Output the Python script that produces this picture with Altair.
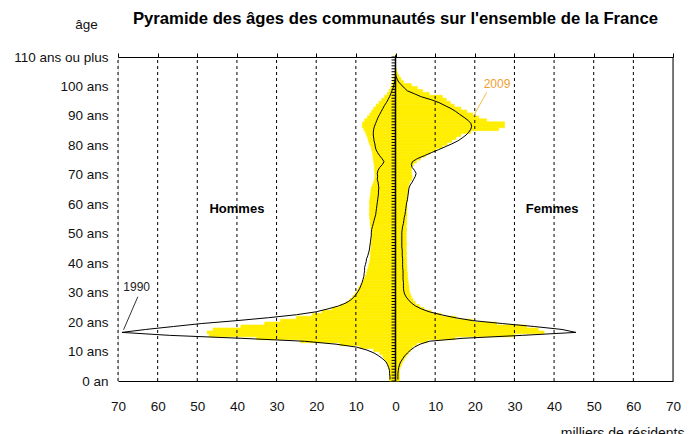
import altair as alt
import pandas as pd

# ---------------- data (thousands of residents, men negative) ----------------
ages = list(range(111))

men_2009 = [
    -1.5, -1.5, -1.5, -1.6, -1.7, -1.9, -2.3, -2.8, -3.2, -4.0,
    -5.5, -9.0, -14.0, -24.0, -35.0, -47.0, -47.5, -46.0, -39.0, -33.0,
    -29.0, -25.0, -21.0, -18.5, -16.0, -14.0, -12.5, -11.5, -10.8, -10.2,
    -9.7, -9.3, -8.8, -8.4, -8.0, -7.6, -7.3, -7.1, -6.9, -6.7,
    -6.5, -6.4, -6.3, -6.4, -6.2, -6.1, -6.2, -6.1, -6.0, -6.1,
    -6.1, -6.2, -6.3, -6.4, -6.4, -6.5, -6.6, -6.5, -6.6, -6.5,
    -6.6, -6.5, -6.4, -6.3, -6.2, -6.1, -5.8, -5.5, -5.3, -5.2,
    -5.2, -5.3, -5.3, -5.4, -5.5, -5.6, -5.7, -5.8, -6.0, -6.2,
    -6.5, -6.8, -7.0, -7.3, -7.6, -8.0, -8.4, -8.3, -7.8, -7.1,
    -6.5, -6.0, -5.5, -4.9, -4.2, -3.5, -2.8, -2.1, -1.6, -1.2,
    -0.9, -0.7, -0.5, -0.4, -0.3, -0.2, -0.1, 0.0, 0.0, 0.0, 0.0,
]

women_2009 = [
    1.0, 1.0, 1.0, 1.0, 1.2, 1.5, 1.8, 2.2, 2.7, 3.2,
    3.8, 4.3, 5.4, 8.0, 15.0, 30.0, 37.5, 36.0, 33.0, 25.5,
    19.5, 15.3, 11.5, 9.0, 7.2, 6.0, 5.0, 4.4, 4.0, 3.7,
    3.5, 3.4, 3.3, 3.2, 3.1, 3.0, 3.0, 2.9, 2.9, 2.8,
    2.8, 2.8, 2.7, 2.8, 2.7, 2.7, 2.8, 2.7, 2.7, 2.7,
    2.7, 2.8, 2.7, 2.8, 2.8, 2.8, 2.9, 2.8, 2.9, 2.9,
    2.9, 3.0, 3.0, 3.1, 3.1, 3.2, 3.4, 3.6, 4.1, 4.2,
    4.0, 4.0, 4.0, 4.5, 5.3, 6.3, 7.5, 8.8, 10.3, 11.8,
    13.0, 14.2, 15.3, 16.5, 19.0, 26.0, 27.5, 27.5, 23.0, 21.0,
    19.5, 18.0, 16.5, 14.8, 13.8, 12.8, 11.8, 8.5, 6.8, 5.5,
    4.0, 2.0, 1.4, 0.9, 0.5, 0.2, 0.1, 0.0, 0.0, 0.0, 0.0,
]

men_1990 = [
    -1.4, -1.4, -1.5, -1.5, -1.7, -2.0, -2.4, -3.2, -4.2, -5.4,
    -7.2, -9.8, -15.0, -23.0, -39.0, -57.0, -69.0, -63.0, -56.0, -49.0,
    -40.0, -32.0, -25.0, -20.0, -17.0, -14.3, -12.5, -11.3, -10.5, -9.9,
    -9.4, -9.0, -8.7, -8.4, -8.2, -8.0, -7.9, -7.8, -7.8, -7.6,
    -7.4, -7.3, -7.0, -6.8, -6.6, -6.5, -6.4, -6.3, -6.2, -6.1,
    -6.1, -6.0, -5.8, -5.6, -5.4, -5.2, -5.0, -4.9, -4.8, -4.7,
    -4.6, -4.5, -4.4, -4.3, -4.3, -4.2, -4.3, -4.4, -4.6, -4.5,
    -4.6, -4.4, -4.0, -3.3, -2.9, -3.4, -4.0, -4.5, -4.9, -5.1,
    -5.2, -5.4, -5.5, -5.6, -5.6, -5.5, -5.3, -5.0, -4.7, -4.4,
    -4.0, -3.6, -3.2, -2.8, -2.3, -1.9, -1.5, -1.2, -0.9, -0.6,
    -0.4, -0.2, -0.1, 0.0, 0.0, 0.0, 0.0, 0.0, 0.0, 0.0, 0.0,
]

women_1990 = [
    0.6, 0.6, 0.6, 0.7, 0.8, 1.0, 1.3, 1.8, 2.3, 3.0,
    3.8, 4.8, 6.2, 8.5, 17.0, 32.0, 45.5, 42.0, 35.0, 27.0,
    19.5, 15.0, 11.5, 8.5, 6.5, 5.0, 4.0, 3.3, 2.7, 2.3,
    2.1, 2.0, 2.0, 2.0, 1.9, 1.9, 1.9, 1.9, 1.8, 1.8,
    1.8, 1.8, 1.7, 1.7, 1.7, 1.6, 1.6, 1.6, 1.6, 1.6,
    1.6, 1.7, 1.8, 2.0, 2.1, 2.2, 2.4, 2.5, 2.6, 2.7,
    2.8, 3.0, 3.1, 3.2, 3.3, 3.4, 3.7, 4.2, 4.6, 5.0,
    5.2, 4.8, 4.2, 4.0, 4.3, 5.5, 7.3, 9.0, 10.8, 12.5,
    14.2, 15.7, 16.8, 17.8, 18.5, 19.0, 19.2, 19.0, 18.3, 17.3,
    16.2, 15.2, 14.0, 12.5, 11.0, 9.0, 6.5, 4.8, 3.0, 2.2,
    1.5, 0.8, 0.4, 0.1, 0.0, 0.0, 0.0, 0.0, 0.0, 0.0, 0.0,
]

y_ticks = [0, 10, 20, 30, 40, 50, 60, 70, 80, 90, 100, 110]
y_labels = ["0 an", "10 ans", "20 ans", "30 ans", "40 ans", "50 ans", "60 ans",
            "70 ans", "80 ans", "90 ans", "100 ans", "110 ans ou plus"]
x_ticks = [-70, -60, -50, -40, -30, -20, -10, 0, 10, 20, 30, 40, 50, 60, 70]
grid_x = [-70, -60, -50, -40, -30, -20, -10, 10, 20, 30, 40, 50, 60]

TITLE = "Pyramide des âges des communautés sur l'ensemble de la France"
FONT = "Liberation Sans"
YELLOW = "#FFEE00"
ORANGE = "#F0A030"

# ---------------- tables ----------------
rows = []
for a in ages:
    rows.append(dict(age=a, age1=a + 1, mid=a + 0.5, sexe="Hommes",
                     v2009=men_2009[a], v1990=men_1990[a], zero=0.0))
for a in ages:
    rows.append(dict(age=a, age1=a + 1, mid=a + 0.5, sexe="Femmes",
                     v2009=women_2009[a], v1990=women_1990[a], zero=0.0))
df = pd.DataFrame(rows)

grid_df = pd.DataFrame({"gx": grid_x, "y0": 0, "y1": 110})
frame_df = pd.DataFrame({"gx": [70], "y0": [0], "y1": [110]})
axis_df = pd.DataFrame({"gx": [0], "y0": [0], "y1": [110]})
ticks_df = pd.DataFrame({"age": ages, "x0": -1.0, "x1": 0.0})
top_df = pd.DataFrame({"gx": x_ticks})

X = alt.Scale(domain=[-70, 70], nice=False, zero=False)
Y = alt.Scale(domain=[0, 110], nice=False, zero=False)

y_expr = "[" + ",".join("'" + s + "'" for s in y_labels) + "][round(datum.value/10)]"

bars = alt.Chart(df).mark_rect(color=YELLOW, stroke=YELLOW, strokeWidth=0.6).encode(
    x=alt.X("v2009:Q", scale=X, axis=alt.Axis(
        values=x_ticks, labelExpr="abs(datum.value)", ticks=False, grid=False,
        domain=True, domainColor="black", domainWidth=1, labelFlush=False,
        labelFont=FONT, labelFontSize=13.5, labelColor="#111", labelPadding=18,
        title="milliers de résidents", titleFont=FONT, titleFontSize=14,
        titleFontWeight="normal", titleColor="#111", titleAlign="right",
        titleAnchor="end", titleX=566, titleY=56, titleBaseline="alphabetic")),
    x2="zero:Q",
    y=alt.Y("age:Q", scale=Y, axis=alt.Axis(
        values=y_ticks, labelExpr=y_expr, ticks=False, grid=False, domain=False,
        labelFont=FONT, labelFontSize=13.5, labelColor="#111", labelPadding=10,
        title="âge", titleAngle=0, titleFont=FONT, titleFontSize=13.5,
        titleFontWeight="normal", titleColor="#111", titleAlign="center",
        titleX=-32, titleY=-29, titleBaseline="alphabetic")),
    y2="age1:Q",
)

grid = alt.Chart(grid_df).mark_rule(color="black", strokeDash=[3, 3], strokeWidth=1).encode(
    x=alt.X("gx:Q", scale=X, axis=None),
    y=alt.Y("y0:Q", scale=Y, axis=None),
    y2="y1:Q",
)

right_border = alt.Chart(frame_df).mark_rule(color="black", strokeWidth=1).encode(
    x=alt.X("gx:Q", scale=X, axis=None),
    y=alt.Y("y0:Q", scale=Y, axis=None),
    y2="y1:Q",
)

top_axis = alt.Chart(top_df).mark_point(opacity=0).encode(
    x=alt.X("gx:Q", scale=X, axis=alt.Axis(
        orient="top", values=x_ticks, labels=False, ticks=True, tickSize=4,
        tickColor="black", domain=True, domainColor="black", grid=False, title=None)),
)

lines = alt.Chart(df).mark_line(color="black", strokeWidth=1).encode(
    x=alt.X("v1990:Q", scale=X, axis=None),
    y=alt.Y("mid:Q", scale=Y, axis=None),
    order="age:Q",
    detail="sexe:N",
)

center_axis = alt.Chart(axis_df).mark_rule(color="black", strokeWidth=1.5).encode(
    x=alt.X("gx:Q", scale=X, axis=None),
    y=alt.Y("y0:Q", scale=Y, axis=None),
    y2="y1:Q",
)

center_ticks = alt.Chart(ticks_df).mark_rule(color="black", strokeWidth=1).encode(
    x=alt.X("x0:Q", scale=X, axis=None),
    x2="x1:Q",
    y=alt.Y("age:Q", scale=Y, axis=None),
)

sex_df = pd.DataFrame({"x": [-40, 39.5], "y": [58.5, 58.5], "t": ["Hommes", "Femmes"]})
sex_text = alt.Chart(sex_df).mark_text(font=FONT, fontSize=13, fontWeight="bold",
                                       color="black").encode(
    x=alt.X("x:Q", scale=X, axis=None),
    y=alt.Y("y:Q", scale=Y, axis=None),
    text="t:N",
)

lab1990 = alt.Chart(pd.DataFrame({"x": [-65.3], "y": [31.8], "t": ["1990"]})).mark_text(
    font=FONT, fontSize=12, color="#222").encode(
    x=alt.X("x:Q", scale=X, axis=None), y=alt.Y("y:Q", scale=Y, axis=None), text="t:N")
lead1990 = alt.Chart(pd.DataFrame({"x": [-65.0], "y": [28.6], "x2": [-68.6], "y2": [17.4]})).mark_rule(
    color="#333", strokeWidth=1).encode(
    x=alt.X("x:Q", scale=X, axis=None), y=alt.Y("y:Q", scale=Y, axis=None), x2="x2:Q", y2="y2:Q")

lab2009 = alt.Chart(pd.DataFrame({"x": [25.6], "y": [100.9], "t": ["2009"]})).mark_text(
    font=FONT, fontSize=12, color=ORANGE).encode(
    x=alt.X("x:Q", scale=X, axis=None), y=alt.Y("y:Q", scale=Y, axis=None), text="t:N")
lead2009 = alt.Chart(pd.DataFrame({"x": [23.0], "y": [98.0], "x2": [19.6], "y2": [89.8]})).mark_rule(
    color="#F5C040", strokeWidth=1).encode(
    x=alt.X("x:Q", scale=X, axis=None), y=alt.Y("y:Q", scale=Y, axis=None), x2="x2:Q", y2="y2:Q")

chart = alt.layer(
    bars, grid, right_border, top_axis, lines, center_ticks, center_axis,
    sex_text, lab1990, lead1990, lab2009, lead2009,
).resolve_axis(x="independent", y="independent").properties(
    width=555,
    height=324,
    title=alt.TitleParams(TITLE, font=FONT, fontSize=16.7, fontWeight="bold",
                          color="black", anchor="middle", offset=0, dy=11),
    autosize=alt.AutoSizeParams(type="none"),
    padding={"left": 110, "top": 49, "right": 13, "bottom": 53},
).configure_view(stroke=None).configure(background="white")

chart.save("out.html", embed_options={"renderer": "svg", "actions": False})
